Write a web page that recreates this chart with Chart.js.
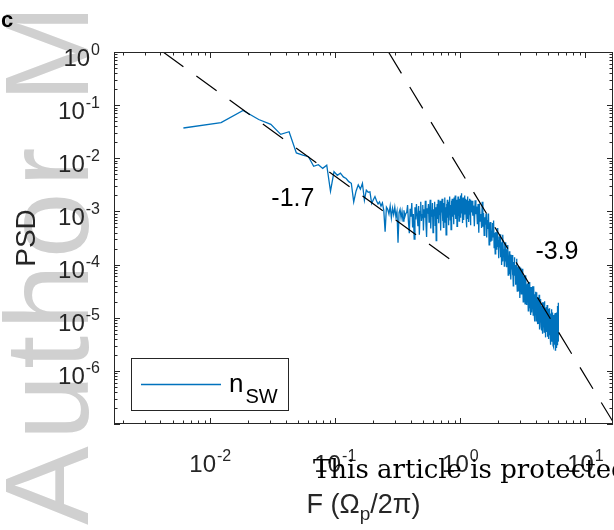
<!DOCTYPE html>
<html>
<head>
<meta charset="utf-8">
<script src="https://cdn.jsdelivr.net/npm/chart.js@4.4.0/dist/chart.umd.min.js"></script>
<style>
  html, body { margin: 0; padding: 0; background: #fff; }
  canvas { display: block; }
</style>
</head>
<body>
<canvas id="psd" width="614" height="530"></canvas>
<script>
// spacing of the spectrum bins, in units of F (Omega_p / 2 pi)
const binWidth = 0.0061;

// log10(PSD), in three runs of bins
const lowRunStart = 1, lowRunStep = 1;
const lowRun = [
  -1.43, -1.33, -1.10, -1.27, -1.36, -1.55, -1.50, -1.90, -1.94, -1.97,
  -2.15, -2.12, -2.19, -2.13, -2.62, -2.25, -2.32, -2.28, -2.35, -2.38,
  -2.44, -2.47, -2.82, -2.62, -2.50, -2.58, -2.47, -2.79, -2.60, -2.64,
  -2.63, -2.85, -2.78, -2.72, -2.80, -2.86, -2.82, -2.90, -2.84, -2.98,
  -3.38, -2.92, -2.96, -3.05, -2.90, -3.12, -2.94, -3.06, -2.92, -3.10,
  -3.00, -3.59, -3.02, -2.96, -3.12, -3.00, -3.18, -2.98, -3.10, -3.04
];
const midRunStart = 61, midRunStep = 1;
const midRun = [
  -3.02, -2.88, -3.20, -3.41, -2.95, -3.10, -2.84, -3.30, -3.05, -3.52,
  -2.92, -3.15, -2.86, -3.08, -3.28, -2.90, -3.44, -3.00, -2.82, -3.18,
  -3.06, -2.88, -3.36, -2.96, -3.12, -2.80, -3.24, -3.48, -2.94, -3.04,
  -2.86, -3.20, -3.02, -2.78, -3.32, -2.98, -3.10, -2.84, -3.40, -2.96,
  -3.08, -2.82, -3.26, -2.92, -3.55, -3.00, -2.86, -3.14, -2.78, -3.22,
  -2.94, -3.06, -2.80, -3.36, -2.90, -3.02, -2.76, -3.18, -2.96, -3.30,
  -2.84, -3.04, -2.74, -3.20, -2.92, -3.44, -2.86, -3.00, -2.78, -3.12,
  -2.90, -3.26, -2.82, -2.98, -2.72, -3.16, -2.88, -3.34, -2.80, -3.02,
  -2.76, -3.10, -2.86, -2.96, -3.24, -2.74, -3.06, -2.84, -2.70, -3.14,
  -2.88, -3.00, -2.78, -3.28, -2.82, -2.96, -2.72, -3.08, -2.86, -3.18,
  -2.76, -2.94, -2.82, -3.12, -2.70, -2.92, -2.66, -3.04, -2.80, -3.22,
  -2.84, -2.74, -3.00, -2.78, -3.16, -2.86, -2.70, -3.06, -2.82, -2.96,
  -2.76, -3.10, -2.84, -3.30, -2.78, -2.92, -2.72, -3.14, -2.86, -2.98,
  -2.80, -3.20, -2.88, -2.76, -3.06, -2.84, -3.26, -2.90, -2.78, -3.02
];
const highRunStart = 203, highRunStep = 3;
const highRun = [
  -2.80, -3.08, -2.89, -3.28, -2.79, -3.05, -2.91, -3.24, -2.86, -3.40,
  -2.85, -3.18, -3.05, -3.31, -2.82, -3.29, -3.03, -3.45, -3.11, -3.25,
  -3.04, -3.49, -3.16, -3.33, -3.04, -3.63, -3.27, -3.20, -3.57, -3.36,
  -3.55, -3.22, -3.48, -3.17, -3.68, -3.40, -3.80, -3.39, -3.51, -3.72,
  -3.31, -3.67, -3.54, -3.88, -3.47, -3.68, -3.43, -3.86, -3.58, -4.01,
  -3.59, -3.94, -3.44, -3.83, -3.71, -4.03, -3.61, -3.93, -3.58, -3.85,
  -4.05, -3.71, -3.93, -3.63, -4.20, -3.84, -4.05, -3.75, -4.18, -3.93,
  -3.81, -4.28, -3.91, -4.09, -3.82, -4.20, -4.02, -4.40, -3.95, -4.20,
  -3.86, -4.20, -4.01, -4.38, -4.11, -4.34, -3.89, -4.24, -4.50, -4.05,
  -4.36, -4.03, -4.50, -4.17, -4.04, -4.37, -4.63, -4.18, -4.35, -4.06,
  -4.55, -4.24, -4.41, -4.08, -4.55, -4.33, -4.70, -4.23, -4.52, -4.21,
  -4.49, -4.21, -4.74, -4.35, -4.62, -4.20, -4.53, -4.76, -4.37, -4.64,
  -4.35, -4.71, -4.50, -4.87, -4.33, -4.66, -4.45, -4.82, -4.58, -4.33,
  -4.80, -4.52, -4.95, -4.42, -4.70, -4.49, -4.90, -4.62, -4.41, -4.80,
  -4.54, -4.95, -4.62, -4.80, -4.41, -4.92, -4.70, -5.07, -4.56, -4.78,
  -4.51, -4.88, -4.71, -5.06, -4.62, -4.85, -4.52, -5.01, -4.72, -5.12,
  -4.79, -4.62, -5.01, -4.74, -5.12, -4.57, -4.96, -4.75, -5.22, -4.84,
  -5.09, -4.72, -4.96, -4.65, -5.17, -4.83, -5.24, -4.78, -5.03, -4.71,
  -5.07, -4.90, -5.30, -4.79, -4.99, -4.71, -5.18, -4.90, -5.27, -4.85,
  -4.69, -5.10, -4.88, -5.26, -4.97, -5.37, -4.81, -5.08, -4.80, -5.18,
  -4.95, -5.27, -4.76, -5.14, -4.89, -5.36, -5.04, -4.83, -5.25, -4.98,
  -5.40, -4.91, -5.16, -4.84, -5.33, -5.07, -4.82, -5.26, -5.03, -5.51,
  -4.92, -5.22, -5.01, -5.44, -4.84, -5.33, -5.11, -5.42, -5.00, -5.20,
  -4.90, -5.38, -5.10, -5.52, -5.02, -5.25, -4.95, -5.55, -5.18, -5.00,
  -5.36, -4.94, -5.51, -5.09, -5.29, -4.91, -5.43, -5.16, -5.62, -5.04,
  -5.12, -5.48, -4.90, -5.35, -5.03, -5.57, -5.19, -4.78, -5.41, -5.09,
  -5.52, -5.02, -5.34, -4.72, -5.45, -5.13
];

// dashed power-law guides, end points
const fitShallowX = [0.0042, 1.0];
const fitShallowY = [1, 9.1e-5];
const fitSteepX = [0.266, 16.6];
const fitSteepY = [1, 1.1e-7];

const slopeLabels = ['-1.7', '-3.9'];
const slopeLabelX = [0.0308, 3.98];
const slopeLabelY = [1.26e-3, 1.27e-4];

const xMin = 0.0017, xMax = 16.6;
const yMin = 1e-7, yMax = 1;
const xTickExps = [-2, -1, 0, 1];
const yTickExps = [0, -1, -2, -3, -4, -5, -6];

const seriesLabel = 'n', seriesSub = 'SW';
const lineBlue = '#0072BD';
const axisColor = '#262626';
const sans = '"Liberation Sans", Arial, Helvetica, sans-serif';

function run(values, start, step) {
  return values.map((v, i) => ({ x: (start + i * step) * binWidth, y: Math.pow(10, v) }));
}
const psdPoints = [
  ...run(lowRun, lowRunStart, lowRunStep),
  ...run(midRun, midRunStart, midRunStep),
  ...run(highRun, highRunStart, highRunStep)
];

function drawPower(ctx, exp, x, y, align) {
  ctx.textAlign = 'left';
  ctx.textBaseline = 'alphabetic';
  ctx.font = '24px ' + sans;
  const wb = ctx.measureText('10').width;
  ctx.font = '16px ' + sans;
  const we = ctx.measureText(String(exp)).width;
  const total = wb + 1 + we;
  const left = align === 'right' ? x - total : x - total / 2;
  ctx.font = '24px ' + sans;
  ctx.fillText('10', left, y);
  ctx.font = '16px ' + sans;
  ctx.fillText(String(exp), left + wb + 1, y - 11);
}

const matlabAxes = {
  id: 'matlabAxes',
  beforeDraw(chart) {
    const ctx = chart.ctx;
    // journal watermark
    ctx.save();
    ctx.fillStyle = '#d0d0d0';
    ctx.font = '118px ' + sans;
    ctx.letterSpacing = '6px';
    ctx.translate(88, 525);
    ctx.rotate(-Math.PI / 2);
    ctx.textAlign = 'left';
    ctx.textBaseline = 'alphabetic';
    ctx.fillText('Author Manuscript', 0, 0);
    ctx.restore();
  },
  afterDraw(chart) {
    const { ctx, chartArea: a, scales: { x, y } } = chart;
    ctx.save();
    ctx.strokeStyle = axisColor;
    ctx.fillStyle = axisColor;
    ctx.lineWidth = 1;

    // box
    ctx.strokeRect(a.left + 0.5, a.top + 0.5, a.right - a.left - 1, a.bottom - a.top - 1);

    // ticks, inward on all four sides
    ctx.beginPath();
    for (let e = -3; e <= 1; e++) {
      for (let m = 1; m <= 9; m++) {
        const v = m * Math.pow(10, e);
        if (v < xMin || v > xMax) continue;
        const px = Math.round(x.getPixelForValue(v)) + 0.5;
        const len = m === 1 ? 6 : 3.5;
        ctx.moveTo(px, a.bottom); ctx.lineTo(px, a.bottom - len);
        ctx.moveTo(px, a.top); ctx.lineTo(px, a.top + len);
      }
    }
    for (let e = -7; e <= 0; e++) {
      for (let m = 1; m <= 9; m++) {
        const v = m * Math.pow(10, e);
        if (v < yMin || v > yMax) continue;
        const py = Math.round(y.getPixelForValue(v)) + 0.5;
        const len = m === 1 ? 6 : 3.5;
        ctx.moveTo(a.left, py); ctx.lineTo(a.left + len, py);
        ctx.moveTo(a.right, py); ctx.lineTo(a.right - len, py);
      }
    }
    ctx.stroke();

    // tick labels
    yTickExps.forEach(e => drawPower(ctx, e, a.left - 14, y.getPixelForValue(Math.pow(10, e)) + 13.5, 'right'));
    xTickExps.forEach(e => drawPower(ctx, e, x.getPixelForValue(Math.pow(10, e)), a.bottom + 48, 'center'));

    // axis titles
    ctx.save();
    ctx.font = '28px ' + sans;
    ctx.textAlign = 'center';
    ctx.translate(35, (a.top + a.bottom) / 2);
    ctx.rotate(-Math.PI / 2);
    ctx.fillText('PSD', 0, 0);
    ctx.restore();

    const big = '27px ' + sans, small = '19px ' + sans;
    ctx.textAlign = 'left';
    ctx.font = big; const w1 = ctx.measureText('F (\u03A9').width;
    ctx.font = small; const w2 = ctx.measureText('p').width;
    ctx.font = big; const w3 = ctx.measureText('/2\u03C0)').width;
    let tx = (a.left + a.right) / 2 - (w1 + w2 + w3) / 2;
    const ty = a.bottom + 89;
    ctx.font = big; ctx.fillText('F (\u03A9', tx, ty); tx += w1;
    ctx.font = small; ctx.fillText('p', tx, ty + 7); tx += w2;
    ctx.font = big; ctx.fillText('/2\u03C0)', tx, ty);

    // slope labels
    ctx.fillStyle = '#000';
    ctx.font = '25px ' + sans;
    slopeLabels.forEach((t, i) => {
      ctx.fillText(t, x.getPixelForValue(slopeLabelX[i]), y.getPixelForValue(slopeLabelY[i]));
    });

    // legend
    const lx = a.left + 17, ly = a.bottom - 66;
    ctx.fillStyle = '#fff';
    ctx.fillRect(lx, ly, 157, 52);
    ctx.strokeStyle = axisColor;
    ctx.strokeRect(lx + 0.5, ly + 0.5, 157, 52);
    ctx.strokeStyle = lineBlue;
    ctx.lineWidth = 1.3;
    ctx.beginPath();
    ctx.moveTo(lx + 10, ly + 26.5); ctx.lineTo(lx + 90, ly + 26.5);
    ctx.stroke();
    ctx.fillStyle = '#000';
    ctx.font = '26px ' + sans;
    ctx.fillText(seriesLabel, lx + 98, ly + 34);
    const wn = ctx.measureText(seriesLabel).width;
    ctx.font = '20px ' + sans;
    ctx.fillText(seriesSub, lx + 100 + wn, ly + 45);

    // panel letter
    ctx.font = 'bold 22px ' + sans;
    ctx.fillText('c', 1, 27);

    // copyright overlay
    ctx.font = '26px "DejaVu Serif", "Liberation Serif", serif';
    ctx.fillText('This article is protected by copyright. All rights reserved.', 313, 478);
    ctx.restore();
  }
};

new Chart(document.getElementById('psd'), {
  type: 'scatter',
  data: {
    datasets: [
      {
        data: fitShallowX.map((v, i) => ({ x: v, y: fitShallowY[i] })),
        showLine: true, borderColor: '#000', borderWidth: 1.2, borderDash: [25, 16],
        pointRadius: 0, order: 1
      },
      {
        data: fitSteepX.map((v, i) => ({ x: v, y: fitSteepY[i] })),
        showLine: true, borderColor: '#000', borderWidth: 1.2, borderDash: [25, 16],
        pointRadius: 0, order: 1
      },
      {
        label: seriesLabel + seriesSub,
        data: psdPoints,
        showLine: true, borderColor: lineBlue, borderWidth: 1.3,
        pointRadius: 0, order: 2
      }
    ]
  },
  options: {
    responsive: false,
    animation: false,
    events: [],
    layout: { padding: { left: 114, right: 1, top: 52, bottom: 106 } },
    plugins: { legend: { display: false }, tooltip: { enabled: false } },
    scales: {
      x: {
        type: 'logarithmic', min: xMin, max: xMax,
        ticks: { display: false }, grid: { display: false }, border: { display: false },
        afterFit(s) { s.height = 0; }
      },
      y: {
        type: 'logarithmic', min: yMin, max: yMax,
        ticks: { display: false }, grid: { display: false }, border: { display: false },
        afterFit(s) { s.width = 0; }
      }
    }
  },
  plugins: [matlabAxes]
});
</script>
</body>
</html>
